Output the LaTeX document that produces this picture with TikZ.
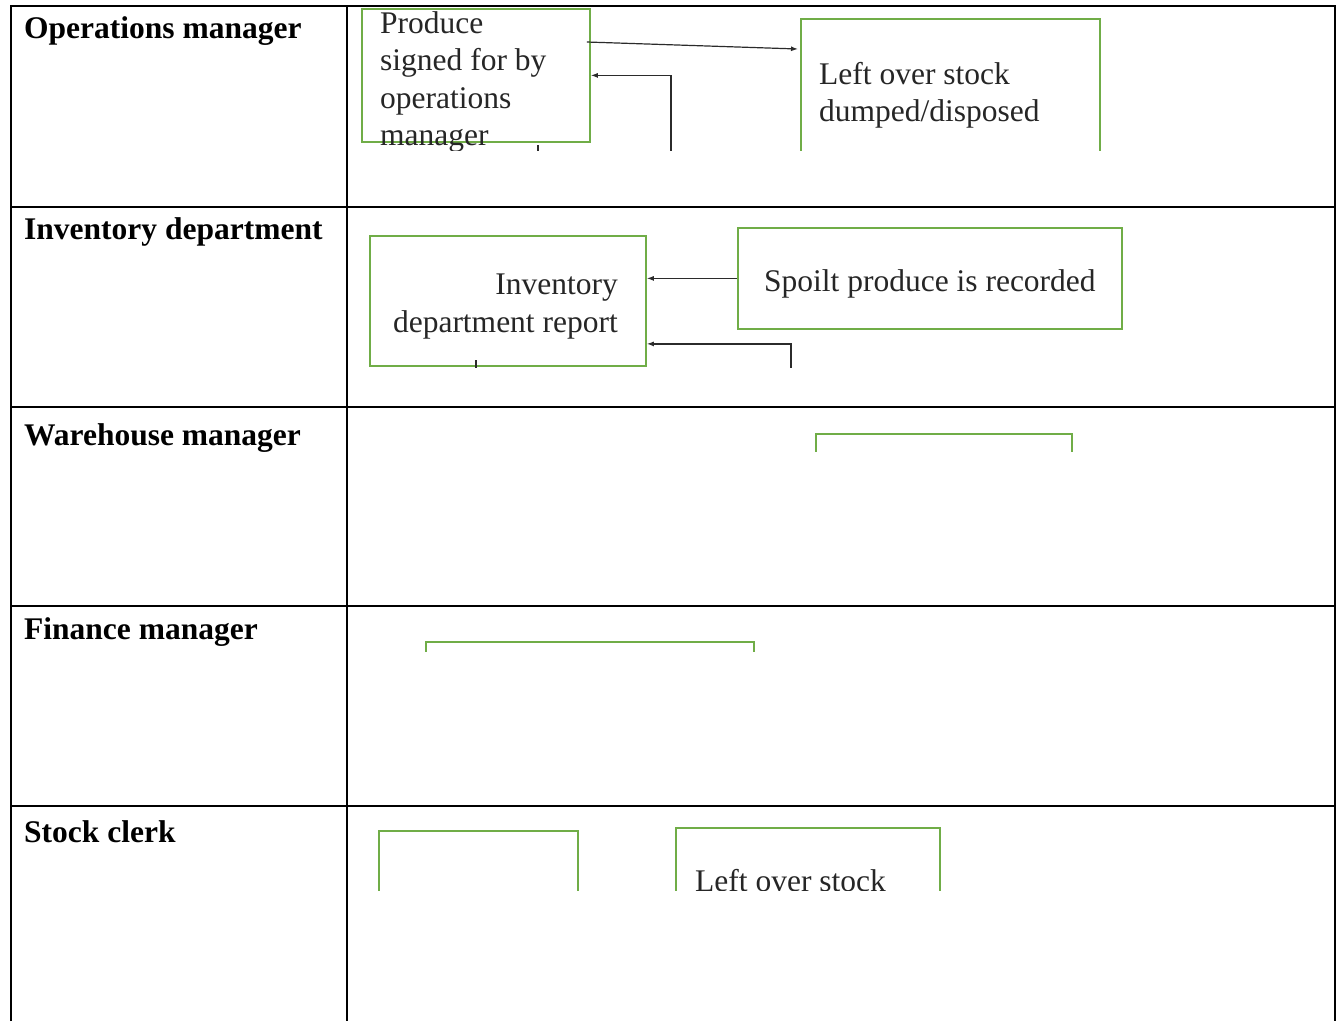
\documentclass[tikz,border=0pt]{standalone}
\usepackage{fontspec}
\setmainfont{Liberation Serif}
\usetikzlibrary{positioning, arrows.meta, calc}
\definecolor{boxgreen}{HTML}{70AD47}
\definecolor{flowgray}{HTML}{2B2B2B}

\begin{document}
\begin{tikzpicture}[
    x=1pt, y=-1pt,
    tableline/.style={line width=2.6pt, black},
    rolelabel/.style={
        anchor=base west,
        inner sep=0pt,
        font=\fontsize{31.5}{37.5}\selectfont\bfseries
    },
    stepbox/.style={
        rectangle,
        draw=boxgreen,
        line width=1.8pt,
        fill=white,
        inner sep=0pt,
        anchor=north west
    },
    boxtext/.style={
        inner sep=0pt,
        text=black!85,
        font=\fontsize{31.5}{37.5}\selectfont
    },
    flow/.style={-{Latex[length=7pt, width=5pt]}, line width=1.2pt, flowgray},
    flowline/.style={line width=1.2pt, flowgray}
]
    \useasboundingbox (0,0) rectangle (1337,1021);

    % Operations manager row
    \begin{scope}
        \clip (349,8) rectangle (1333,150);
        \node[stepbox, minimum width=228pt, minimum height=133pt] (produce) at (361,8) {};
        \node[boxtext, anchor=north west, align=left] (producetxt) at (380,11)
            {Produce\\signed for by\\operations\\manager};
        \node[stepbox, minimum width=299pt, minimum height=180pt] (leftover) at (800,18) {};
        \node[boxtext, anchor=north west, align=left] (leftovertxt) at (819,62)
            {Left over stock\\dumped/disposed};
        \coordinate (opsback) at (671,160);
        \coordinate (opstick) at (538,157);
        \draw[flow] ($(produce.north east)+(-4,34)$) -- ($(leftover.north west)+(-2,31)$);
        \draw[flow] (opsback) |- (produce.east);
        \draw[flowline] (opstick) -- ++(0,-12);
    \end{scope}

    % Inventory department row
    \begin{scope}
        \clip (349,209) rectangle (1333,367);
        \node[stepbox, minimum width=276pt, minimum height=130pt] (inventory) at (369,235) {};
        \node[boxtext, anchor=north east, align=right] (inventorytxt) at (618,274)
            {Inventory\\department report};
        \node[stepbox, minimum width=384pt, minimum height=101pt] (spoilt) at (737,227) {};
        \node[boxtext, anchor=base] (spoilttxt) at ($(spoilt.center)+(0,13.5)$)
            {Spoilt produce is recorded};
        \coordinate (invback) at (791,380);
        \coordinate (invtick) at (476,372);
        \draw[flow] (spoilt.west) -- (spoilt.west -| inventory.east);
        \draw[flow] (invback) |- ($(inventory.east)+(0,43)$);
        \draw[flowline] (invtick) -- ++(0,-12);
    \end{scope}

    % Warehouse manager row
    \begin{scope}
        \clip (349,409) rectangle (1333,451);
        \node[stepbox, minimum width=256pt, minimum height=80pt] (warehouse) at (815,433) {};
    \end{scope}

    % Finance manager row
    \begin{scope}
        \clip (349,608) rectangle (1333,651);
        \node[stepbox, minimum width=328pt, minimum height=80pt] (finance) at (425,641) {};
    \end{scope}

    % Stock clerk row
    \begin{scope}
        \clip (349,808) rectangle (1333,890);
        \node[stepbox, minimum width=199pt, minimum height=100pt] (clerka) at (378,830) {};
        \node[stepbox, minimum width=264pt, minimum height=100pt] (clerkb) at (675,827) {};
        \node[boxtext, anchor=base west] (clerkbtxt) at (695,891) {Left over stock};
    \end{scope}

    % Table
    \draw[tableline] (11,1021) |- (1335,6) -- (1335,1021);
    \draw[tableline] (347,6) -- (347,1021);
    \foreach \y in {207,407,606,806}
        \draw[tableline] (11,\y) -- (1335,\y);

    % Roles
    \foreach \y/\role [count=\i] in {38/Operations manager, 239/Inventory department,
        445/Warehouse manager, 639/Finance manager, 842/Stock clerk}
        \node[rolelabel] (role\i) at (24,\y) {\role};
\end{tikzpicture}
\end{document}
